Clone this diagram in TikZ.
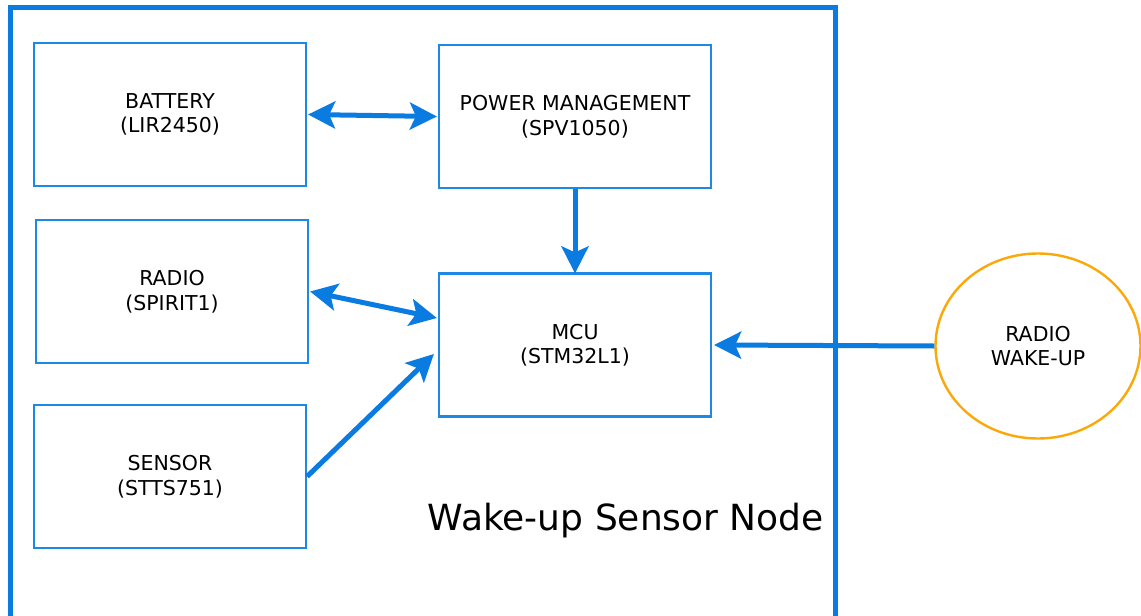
\documentclass[tikz,border=0pt]{standalone}
\usepackage{fontspec}
\setmainfont{DejaVu Sans}
\usetikzlibrary{arrows.meta,shapes.geometric}
\definecolor{frameblue}{HTML}{0A7BE0}
\definecolor{boxblue}{HTML}{1E88E5}
\definecolor{arrowblue}{HTML}{0A7BE0}
\definecolor{wakeorange}{HTML}{FBA90A}
\tikzset{
  blockbox/.style={draw=boxblue, line width=2.2pt, minimum width=272pt, minimum height=143pt,
    align=center, inner sep=0pt, font=\fontsize{20.5}{24.5}\selectfont, text=black},
  wakeell/.style={ellipse, draw=wakeorange, line width=2.4pt, minimum width=205pt, minimum height=185pt,
    align=center, inner sep=0pt, font=\fontsize{20.5}{24.5}\selectfont, text=black},
  conn/.style={draw=arrowblue, line width=5pt},
  tipone/.style={-{Stealth[length=27pt,width=27pt,inset=6pt]}},
  tipboth/.style={{Stealth[length=27pt,width=27pt,inset=6pt]}-{Stealth[length=27pt,width=27pt,inset=6pt]}},
  frame/.style={draw=frameblue, line width=5pt},
  titletext/.style={font=\fontsize{36}{42}\selectfont, inner sep=0pt, anchor=base east, text=black}
}
\begin{document}
\begin{tikzpicture}[x=1pt,y=-1pt]
\useasboundingbox (0,0) rectangle (1141,616);
\clip (0,0) rectangle (1141,616);
\fill[white] (0,0) rectangle (1141,616);
% outer frame (open at the bottom, cut by the page edge)
\draw[frame] (10,640) -- (10,7) -- (835,7) -- (835,640);
\node[blockbox] (bat) at (170,114.5) {BATTERY\\(LIR2450)};
\node[blockbox] (pwr) at (575,116.5) {POWER MANAGEMENT\\(SPV1050)};
\node[blockbox] (rad) at (172,291.5) {RADIO\\(SPIRIT1)};
\node[blockbox] (mcu) at (575,345) {MCU\\(STM32L1)};
\node[blockbox] (sen) at (170,476.5) {SENSOR\\(STTS751)};
\node[wakeell] (wake) at (1038,346) {RADIO\\WAKE-UP};
\node[titletext] (title) at (824,530) {Wake-up Sensor Node};
% connectors
\draw[conn,tipboth] ([xshift=1]bat.east) -- ([xshift=-1]pwr.west);
\draw[conn,tipone] (pwr.south) -- ([yshift=-1]mcu.north);
\draw[conn,tipboth] ([xshift=1]rad.east) -- ([shift={(-1,-27)}]mcu.west);
\draw[conn,tipone] (sen.east) -- ([shift={(-4,9)}]mcu.west);
\draw[conn,tipone] (wake.west) -- ([xshift=2]mcu.east);
\end{tikzpicture}
\end{document}
